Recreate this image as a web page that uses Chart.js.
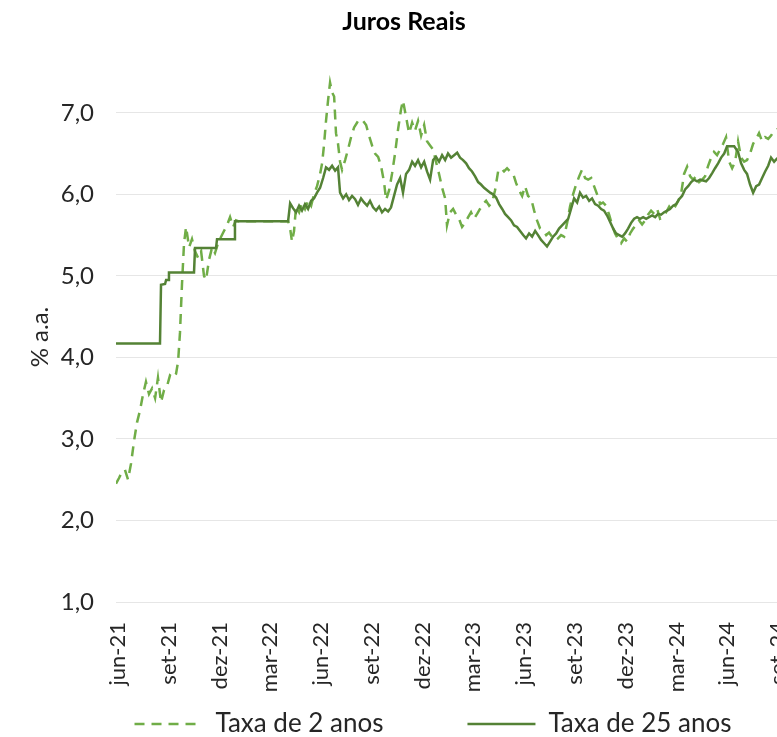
<!DOCTYPE html>
<html>
<head>
<meta charset="utf-8">
<script src="https://cdn.jsdelivr.net/npm/chart.js@4.4.1/dist/chart.umd.min.js"></script>
<style>
  html, body { margin: 0; padding: 0; background: #fff; overflow: hidden; }
  #wrap { width: 866px; height: 737px; }
</style>
</head>
<body>
<div id="wrap"><canvas id="chart" width="866" height="737"></canvas></div>
<script>
// x values are months counted from jun-21 (0 = jun-21, 3 = set-21, ...)
const tickLabels = ['jun-21', 'set-21', 'dez-21', 'mar-22', 'jun-22', 'set-22', 'dez-22',
  'mar-23', 'jun-23', 'set-23', 'dez-23', 'mar-24', 'jun-24', 'set-24'];

const months2y = [-0.12, 0.06, 0.24, 0.41, 0.59, 0.77, 0.95, 1.12, 1.30, 1.48, 1.65, 1.83, 2.01, 2.19,
  2.36, 2.54, 2.72, 2.90, 3.07, 3.25, 3.43, 3.55, 3.66, 3.78, 3.90, 4.02, 4.20, 4.37, 4.55, 4.73, 4.91,
  5.08, 5.20, 5.38, 5.56, 5.73, 5.91, 6.09, 6.26, 6.44, 6.62, 6.80, 6.97, 7.10, 10.05, 10.17, 10.28,
  10.40, 10.52, 10.70, 10.87, 11.05, 11.23, 11.41, 11.58, 11.76, 11.94, 12.06, 12.17, 12.29, 12.41,
  12.53, 12.65, 12.77, 12.88, 13.00, 13.12, 13.24, 13.42, 13.59, 13.77, 13.95, 14.13, 14.30, 14.48,
  14.66, 14.83, 15.01, 15.19, 15.37, 15.54, 15.72, 15.84, 16.02, 16.19, 16.37, 16.55, 16.73, 16.84,
  17.02, 17.20, 17.38, 17.55, 17.73, 17.91, 18.09, 18.26, 18.44, 18.62, 18.79, 18.97, 19.15, 19.33,
  19.44, 19.62, 19.80, 19.98, 20.15, 20.33, 20.51, 20.69, 20.86, 21.04, 21.22, 21.39, 21.57, 21.75,
  21.93, 22.10, 22.28, 22.46, 22.64, 22.81, 22.99, 23.17, 23.35, 23.52, 23.70, 23.88, 24.05, 24.23,
  24.41, 24.59, 24.76, 24.94, 25.12, 25.30, 25.47, 25.65, 25.83, 26.00, 26.18, 26.36, 26.54, 26.71,
  26.89, 27.07, 27.25, 27.42, 27.60, 27.78, 27.96, 28.13, 28.31, 28.49, 28.66, 28.84, 29.02, 29.20,
  29.37, 29.55, 29.73, 29.91, 30.08, 30.26, 30.44, 30.61, 30.79, 30.97, 31.15, 31.32, 31.50, 31.68,
  31.86, 32.03, 32.21, 32.39, 32.57, 32.74, 32.92, 33.10, 33.27, 33.45, 33.63, 33.81, 33.98, 34.16,
  34.34, 34.52, 34.69, 34.87, 35.05, 35.22, 35.40, 35.58, 35.76, 35.93, 36.11, 36.29, 36.47, 36.64,
  36.82, 37.00, 37.17, 37.35, 37.53, 37.71, 37.88, 38.06, 38.24, 38.42, 38.59, 38.77, 38.95, 39.24];
const rate2y = [2.45, 2.52, 2.60, 2.62, 2.50, 2.70, 2.98, 3.20, 3.35, 3.55, 3.70, 3.55, 3.62, 3.50,
  3.75, 3.45, 3.60, 3.65, 3.78, 3.75, 3.80, 3.95, 4.30, 4.90, 5.40, 5.60, 5.35, 5.45, 5.30, 5.22, 5.30,
  5.00, 4.95, 5.20, 5.35, 5.28, 5.40, 5.48, 5.55, 5.62, 5.72, 5.60, 5.68, 5.67, 5.67, 5.58, 5.42,
  5.55, 5.85, 5.78, 5.90, 5.82, 5.92, 5.86, 6.00, 6.10, 6.25, 6.38, 6.60, 6.90, 7.15,
  7.37, 7.25, 7.20, 6.75, 6.62, 6.40, 6.30, 6.42, 6.55, 6.70, 6.82, 6.88, 6.86, 6.90,
  6.85, 6.72, 6.60, 6.50, 6.46, 6.35, 6.15, 5.93, 6.05, 6.25, 6.50, 6.80, 7.05, 7.15,
  6.95, 6.75, 6.88, 6.78, 6.90, 6.72, 6.85, 6.65, 6.60, 6.55, 6.40, 6.25, 6.08, 5.95,
  5.62, 5.78, 5.82, 5.75, 5.70, 5.60, 5.65, 5.72, 5.78, 5.70, 5.76, 5.82, 5.88, 5.92,
  5.86, 5.90, 6.05, 6.28, 6.32, 6.28, 6.32, 6.28, 6.25, 6.14, 6.05, 5.98, 6.10, 5.98,
  5.95, 5.80, 5.68, 5.58, 5.55, 5.50, 5.53, 5.48, 5.50, 5.46, 5.50, 5.48, 5.65, 5.85,
  6.00, 6.12, 6.22, 6.30, 6.20, 6.18, 6.20, 6.10, 6.00, 5.88, 5.90, 5.86, 5.75, 5.62,
  5.52, 5.45, 5.40, 5.46, 5.42, 5.52, 5.58, 5.62, 5.68, 5.63, 5.68, 5.75, 5.80, 5.76,
  5.82, 5.70, 5.72, 5.78, 5.85, 5.80, 5.85, 5.92, 6.00, 6.25, 6.34, 6.22, 6.18, 6.22,
  6.15, 6.18, 6.22, 6.35, 6.45, 6.52, 6.48, 6.55, 6.62, 6.70, 6.40, 6.32, 6.40, 6.65,
  6.45, 6.40, 6.42, 6.50, 6.62, 6.68, 6.75, 6.65, 6.70, 6.68, 6.72, 6.78, 6.80, 6.82];

const months25y = [-0.12, 2.48, 2.54, 2.78, 2.84, 2.96, 3.01, 4.49, 4.55, 5.79, 5.85, 6.86, 6.91,
  10.05, 10.17, 10.34, 10.52, 10.70, 10.87, 11.05, 11.23, 11.41, 11.58, 11.76, 11.94, 12.12, 12.29,
  12.47, 12.65, 12.83, 13.00, 13.12, 13.30, 13.48, 13.65, 13.83, 14.01, 14.18, 14.36, 14.54, 14.72,
  14.89, 15.07, 15.25, 15.43, 15.60, 15.78, 15.96, 16.13, 16.31, 16.49, 16.67, 16.84, 17.02, 17.20,
  17.38, 17.55, 17.73, 17.91, 18.09, 18.26, 18.44, 18.62, 18.79, 18.97, 19.15, 19.33, 19.50, 19.68,
  19.86, 20.04, 20.21, 20.39, 20.57, 20.74, 20.92, 21.10, 21.28, 21.45, 21.63, 21.81, 21.99, 22.16,
  22.34, 22.52, 22.70, 22.87, 23.05, 23.23, 23.40, 23.58, 23.76, 23.94, 24.11, 24.29, 24.47, 24.65,
  24.82, 25.00, 25.18, 25.35, 25.53, 25.71, 25.89, 26.06, 26.24, 26.42, 26.60, 26.77, 26.95, 27.13,
  27.30, 27.48, 27.66, 27.84, 28.01, 28.19, 28.37, 28.55, 28.72, 28.90, 29.08, 29.26, 29.43, 29.61,
  29.79, 29.96, 30.14, 30.32, 30.50, 30.67, 30.85, 31.03, 31.21, 31.38, 31.56, 31.74, 31.91, 32.09,
  32.27, 32.45, 32.62, 32.80, 32.98, 33.16, 33.33, 33.51, 33.69, 33.87, 34.04, 34.22, 34.40, 34.57,
  34.75, 34.93, 35.11, 35.28, 35.46, 35.64, 35.82, 35.99, 36.17, 36.41, 36.64, 36.82, 37.00, 37.17,
  37.35, 37.53, 37.71, 37.88, 38.06, 38.24, 38.42, 38.59, 38.77, 38.95, 39.24];
const rate25y = [4.17, 4.17, 4.89, 4.90, 4.95, 4.95, 5.04, 5.04, 5.34, 5.34, 5.45, 5.45, 5.67,
  5.67, 5.89, 5.83, 5.78, 5.86, 5.80, 5.88, 5.82, 5.92, 5.95, 6.02, 6.08, 6.20, 6.33,
  6.30, 6.35, 6.29, 6.33, 6.02, 5.95, 6.00, 5.93, 5.98, 5.94, 5.87, 5.95, 5.90, 5.86,
  5.92, 5.84, 5.80, 5.85, 5.78, 5.82, 5.79, 5.84, 5.98, 6.12, 6.20, 6.02, 6.25, 6.30,
  6.40, 6.35, 6.42, 6.33, 6.40, 6.28, 6.18, 6.42, 6.46, 6.40, 6.48, 6.42, 6.50, 6.45,
  6.48, 6.51, 6.45, 6.42, 6.38, 6.32, 6.28, 6.22, 6.15, 6.12, 6.08, 6.05, 6.02, 6.00,
  5.96, 5.88, 5.82, 5.76, 5.72, 5.68, 5.62, 5.60, 5.55, 5.50, 5.46, 5.52, 5.48, 5.55,
  5.50, 5.44, 5.40, 5.36, 5.42, 5.48, 5.52, 5.58, 5.62, 5.66, 5.70, 5.82, 5.95, 5.90,
  6.02, 5.96, 5.98, 5.92, 5.95, 5.88, 5.86, 5.82, 5.80, 5.74, 5.66, 5.58, 5.52, 5.50,
  5.48, 5.52, 5.58, 5.65, 5.70, 5.72, 5.70, 5.72, 5.70, 5.72, 5.74, 5.72, 5.76, 5.75,
  5.78, 5.80, 5.82, 5.86, 5.88, 5.94, 5.98, 6.06, 6.10, 6.15, 6.18, 6.16, 6.18, 6.17,
  6.16, 6.20, 6.26, 6.32, 6.38, 6.45, 6.50, 6.59, 6.59, 6.59, 6.52, 6.38, 6.30, 6.25,
  6.12, 6.02, 6.10, 6.12, 6.20, 6.28, 6.35, 6.45, 6.40, 6.44, 6.48];

const toPoints = (xs, ys) => xs.map((x, i) => ({ x: x, y: ys[i] }));

const textColor = '#262626';

// title drawn by hand so it can sit off the canvas centre, like the original
const titlePlugin = {
  id: 'chartTitle',
  afterDraw(chart) {
    const ctx = chart.ctx;
    ctx.save();
    ctx.font = 'bold 25px Lato';
    ctx.fillStyle = '#000';
    ctx.textAlign = 'center';
    ctx.textBaseline = 'middle';
    ctx.fillText('Juros Reais', 404, 22);
    ctx.restore();
  }
};

const ctx = document.getElementById('chart').getContext('2d');
new Chart(ctx, {
  type: 'line',
  data: {
    datasets: [
      {
        label: 'Taxa de 2 anos',
        data: toPoints(months2y, rate2y),
        borderColor: '#70ad47',
        borderWidth: 2.5,
        borderDash: [10, 7],
        pointRadius: 0,
        order: 1
      },
      {
        label: 'Taxa de 25 anos',
        data: toPoints(months25y, rate25y),
        borderColor: '#548235',
        borderWidth: 2.5,
        pointRadius: 0,
        order: 0
      }
    ]
  },
  options: {
    responsive: false,
    animation: false,
    layout: { padding: { top: 72, bottom: -10 } },
    plugins: {
      legend: {
        position: 'bottom',
        labels: {
          usePointStyle: true,
          pointStyle: 'line',
          pointStyleWidth: 68,
          padding: 6,
          color: textColor,
          font: { family: 'Lato', size: 26 },
          sort: (a, b) => a.datasetIndex - b.datasetIndex,
          generateLabels: chart => {
            const items = Chart.defaults.plugins.legend.labels.generateLabels(chart);
            items.forEach(item => {
              const ds = chart.data.datasets[item.datasetIndex];
              item.lineDash = ds.borderDash || [];
              item.lineWidth = ds.borderWidth;
              item.strokeStyle = ds.borderColor;
              // wider gap after the first entry
              if (item.datasetIndex === 0) item.text += '\u2003\u2003\u2003\u2003';
            });
            return items;
          }
        }
      },
      tooltip: { enabled: false }
    },
    scales: {
      x: {
        type: 'linear',
        min: -0.12,
        max: 44.2,
        grid: { display: false },
        border: { display: false },
        ticks: {
          autoSkip: false,
          minRotation: 90,
          maxRotation: 90,
          padding: 12,
          color: textColor,
          font: { family: 'Lato', size: 22 },
          callback: (value, index) => tickLabels[index]
        },
        afterBuildTicks: scale => {
          scale.ticks = tickLabels.map((_, i) => ({ value: i * 3 }));
        },
        afterFit: scale => { scale.height = 103; }
      },
      y: {
        min: 1,
        max: 7.5,
        grid: { color: '#e6e6e6', drawTicks: false },
        border: { display: false },
        ticks: {
          stepSize: 1,
          padding: 22,
          color: textColor,
          font: { family: 'Lato', size: 24 },
          callback: value => value.toFixed(1).replace('.', ',')
        },
        title: {
          display: true,
          text: '% a.a.',
          color: textColor,
          font: { family: 'Lato', size: 24 },
          padding: { top: 26, bottom: 0 }
        },
        afterBuildTicks: scale => {
          scale.ticks = scale.ticks.filter(t => Number.isInteger(t.value));
        },
        afterFit: scale => { scale.width = 116; }
      }
    }
  },
  plugins: [titlePlugin]
});
</script>
</body>
</html>
